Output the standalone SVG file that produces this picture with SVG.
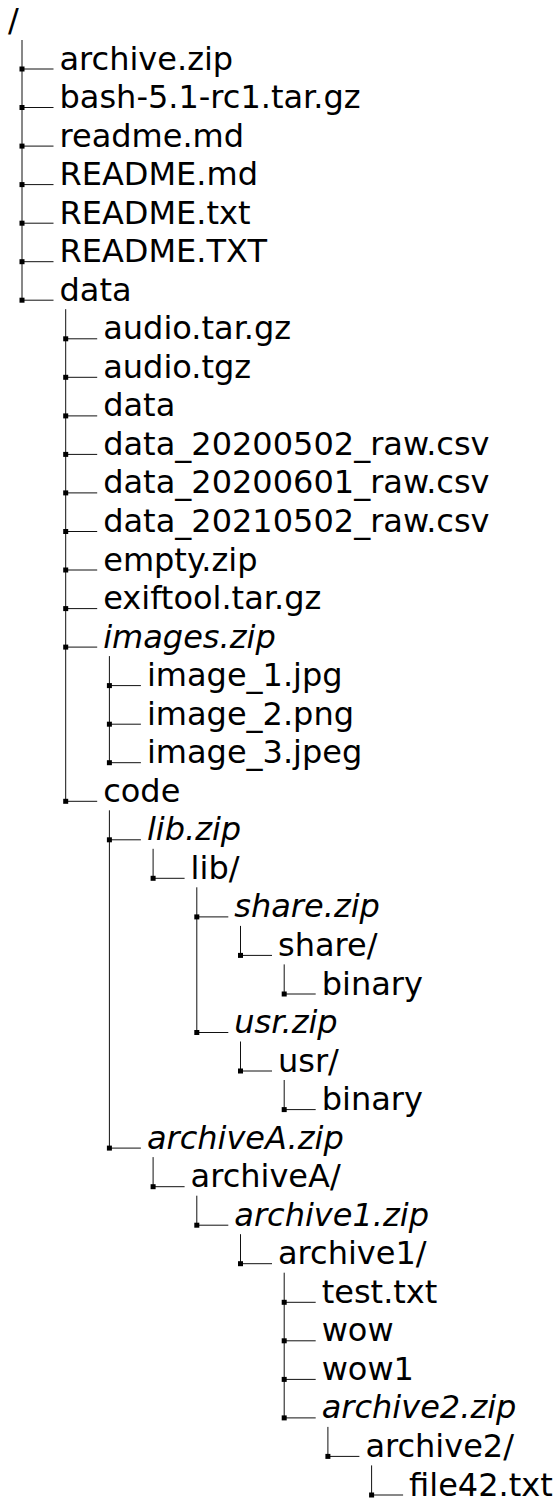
<svg xmlns="http://www.w3.org/2000/svg" xmlns:xlink="http://www.w3.org/1999/xlink" width="558" height="1499" viewBox="0 0 558 1499">
  <style>
    .lbl { font-family: "DejaVu Sans", "Noto Sans", sans-serif; font-size: 32px; fill: #000; }
    .arc { font-style: italic; }
    .trunk, .stub { stroke: #111; stroke-width: 1; fill: none; }
  </style>
  <defs>
    <!-- junction dot where a branch leaves its trunk -->
    <rect id="dot" x="-2.5" y="-2.5" width="5" height="5" fill="#000"/>
  </defs>
  <rect width="558" height="1499" fill="#fff"/>

  <!-- connectors: vertical trunks, horizontal stubs, junction dots -->
  <g id="connectors">
    <g class="trunk">
      <line x1="22" y1="40" x2="22" y2="300.2"/>
      <line x1="65.7" y1="309.2" x2="65.7" y2="801.3"/>
      <line x1="109.4" y1="656.1" x2="109.4" y2="762.7"/>
      <line x1="109.4" y1="810.3" x2="109.4" y2="1148.1"/>
      <line x1="153.1" y1="848.8" x2="153.1" y2="878.3"/>
      <line x1="196.8" y1="887.3" x2="196.8" y2="1032.5"/>
      <line x1="240.5" y1="925.9" x2="240.5" y2="955.4"/>
      <line x1="284.2" y1="964.4" x2="284.2" y2="994"/>
      <line x1="240.5" y1="1041.5" x2="240.5" y2="1071"/>
      <line x1="284.2" y1="1080" x2="284.2" y2="1109.6"/>
      <line x1="153.1" y1="1157.1" x2="153.1" y2="1186.7"/>
      <line x1="196.8" y1="1195.7" x2="196.8" y2="1225.2"/>
      <line x1="240.5" y1="1234.2" x2="240.5" y2="1263.7"/>
      <line x1="284.2" y1="1272.7" x2="284.2" y2="1417.9"/>
      <line x1="327.9" y1="1426.9" x2="327.9" y2="1456.4"/>
      <line x1="371.6" y1="1465.4" x2="371.6" y2="1495"/>
    </g>
    <g class="stub">
      <path d="M22 69h31.5M22 107.5h31.5M22 146.1h31.5M22 184.6h31.5M22 223.2h31.5M22 261.7h31.5M22 300.2h31.5"/>
      <path d="M65.7 338.8h31.5M65.7 377.3h31.5M65.7 415.9h31.5M65.7 454.4h31.5M65.7 492.9h31.5M65.7 531.5h31.5M65.7 570h31.5M65.7 608.6h31.5M65.7 647.1h31.5M65.7 801.3h31.5"/>
      <path d="M109.4 685.6h31.5M109.4 724.2h31.5M109.4 762.7h31.5M109.4 839.8h31.5M109.4 1148.1h31.5"/>
      <path d="M153.1 878.3h31.5M153.1 1186.7h31.5"/>
      <path d="M196.8 916.9h31.5M196.8 1032.5h31.5M196.8 1225.2h31.5"/>
      <path d="M240.5 955.4h31.5M240.5 1071h31.5M240.5 1263.7h31.5"/>
      <path d="M284.2 994h31.5M284.2 1109.6h31.5M284.2 1302.3h31.5M284.2 1340.8h31.5M284.2 1379.4h31.5M284.2 1417.9h31.5"/>
      <path d="M327.9 1456.4h31.5"/>
      <path d="M371.6 1495h31.5"/>
    </g>
    <g class="dots">
      <use xlink:href="#dot" x="22" y="69"/>
      <use xlink:href="#dot" x="22" y="107.5"/>
      <use xlink:href="#dot" x="22" y="146.1"/>
      <use xlink:href="#dot" x="22" y="184.6"/>
      <use xlink:href="#dot" x="22" y="223.2"/>
      <use xlink:href="#dot" x="22" y="261.7"/>
      <use xlink:href="#dot" x="22" y="300.2"/>
      <use xlink:href="#dot" x="65.7" y="338.8"/>
      <use xlink:href="#dot" x="65.7" y="377.3"/>
      <use xlink:href="#dot" x="65.7" y="415.9"/>
      <use xlink:href="#dot" x="65.7" y="454.4"/>
      <use xlink:href="#dot" x="65.7" y="492.9"/>
      <use xlink:href="#dot" x="65.7" y="531.5"/>
      <use xlink:href="#dot" x="65.7" y="570"/>
      <use xlink:href="#dot" x="65.7" y="608.6"/>
      <use xlink:href="#dot" x="65.7" y="647.1"/>
      <use xlink:href="#dot" x="65.7" y="801.3"/>
      <use xlink:href="#dot" x="109.4" y="685.6"/>
      <use xlink:href="#dot" x="109.4" y="724.2"/>
      <use xlink:href="#dot" x="109.4" y="762.7"/>
      <use xlink:href="#dot" x="109.4" y="839.8"/>
      <use xlink:href="#dot" x="109.4" y="1148.1"/>
      <use xlink:href="#dot" x="153.1" y="878.3"/>
      <use xlink:href="#dot" x="153.1" y="1186.7"/>
      <use xlink:href="#dot" x="196.8" y="916.9"/>
      <use xlink:href="#dot" x="196.8" y="1032.5"/>
      <use xlink:href="#dot" x="196.8" y="1225.2"/>
      <use xlink:href="#dot" x="240.5" y="955.4"/>
      <use xlink:href="#dot" x="240.5" y="1071"/>
      <use xlink:href="#dot" x="240.5" y="1263.7"/>
      <use xlink:href="#dot" x="284.2" y="994"/>
      <use xlink:href="#dot" x="284.2" y="1109.6"/>
      <use xlink:href="#dot" x="284.2" y="1302.3"/>
      <use xlink:href="#dot" x="284.2" y="1340.8"/>
      <use xlink:href="#dot" x="284.2" y="1379.4"/>
      <use xlink:href="#dot" x="284.2" y="1417.9"/>
      <use xlink:href="#dot" x="327.9" y="1456.4"/>
      <use xlink:href="#dot" x="371.6" y="1495"/>
    </g>
  </g>

  <!-- nodes: one group per file or folder; italic names are archives that get unpacked -->
  <g id="n-root"><text class="lbl" x="8" y="30.5">/</text></g>
  <g id="n-archive-zip"><text class="lbl" x="59.5" y="69.5">archive.zip</text></g>
  <g id="n-bash"><text class="lbl" x="59.5" y="108">bash-5.1-rc1.tar.gz</text></g>
  <g id="n-readme-md"><text class="lbl" x="59.5" y="146.6">readme.md</text></g>
  <g id="n-README-md"><text class="lbl" x="59.5" y="185.1">README.md</text></g>
  <g id="n-README-txt"><text class="lbl" x="59.5" y="223.7">README.txt</text></g>
  <g id="n-README-TXT"><text class="lbl" x="59.5" y="262.2">README.TXT</text></g>
  <g id="n-data"><text class="lbl" x="59.5" y="300.7">data</text></g>

  <g id="n-audio-tar"><text class="lbl" x="103.2" y="339.3">audio.tar.gz</text></g>
  <g id="n-audio-tgz"><text class="lbl" x="103.2" y="377.8">audio.tgz</text></g>
  <g id="n-data-data"><text class="lbl" x="103.2" y="416.4">data</text></g>
  <g id="n-csv-20200502"><text class="lbl" x="103.2" y="454.9">data_20200502_raw.csv</text></g>
  <g id="n-csv-20200601"><text class="lbl" x="103.2" y="493.4">data_20200601_raw.csv</text></g>
  <g id="n-csv-20210502"><text class="lbl" x="103.2" y="532">data_20210502_raw.csv</text></g>
  <g id="n-empty-zip"><text class="lbl" x="103.2" y="570.5">empty.zip</text></g>
  <g id="n-exiftool"><text class="lbl" x="103.2" y="609.1">exiftool.tar.gz</text></g>
  <g id="n-images-zip"><text class="lbl arc" x="103.2" y="647.6">images.zip</text></g>

  <g id="n-image-1"><text class="lbl" x="146.9" y="686.1">image_1.jpg</text></g>
  <g id="n-image-2"><text class="lbl" x="146.9" y="724.7">image_2.png</text></g>
  <g id="n-image-3"><text class="lbl" x="146.9" y="763.2">image_3.jpeg</text></g>

  <g id="n-code"><text class="lbl" x="103.2" y="801.8">code</text></g>
  <g id="n-lib-zip"><text class="lbl arc" x="146.9" y="840.3">lib.zip</text></g>
  <g id="n-lib"><text class="lbl" x="190.6" y="878.8">lib/</text></g>
  <g id="n-share-zip"><text class="lbl arc" x="234.3" y="917.4">share.zip</text></g>
  <g id="n-share"><text class="lbl" x="278" y="955.9">share/</text></g>
  <g id="n-share-binary"><text class="lbl" x="321.7" y="994.5">binary</text></g>
  <g id="n-usr-zip"><text class="lbl arc" x="234.3" y="1033">usr.zip</text></g>
  <g id="n-usr"><text class="lbl" x="278" y="1071.5">usr/</text></g>
  <g id="n-usr-binary"><text class="lbl" x="321.7" y="1110.1">binary</text></g>

  <g id="n-archiveA-zip"><text class="lbl arc" x="146.9" y="1148.6">archiveA.zip</text></g>
  <g id="n-archiveA"><text class="lbl" x="190.6" y="1187.2">archiveA/</text></g>
  <g id="n-archive1-zip"><text class="lbl arc" x="234.3" y="1225.7">archive1.zip</text></g>
  <g id="n-archive1"><text class="lbl" x="278" y="1264.2">archive1/</text></g>
  <g id="n-test-txt"><text class="lbl" x="321.7" y="1302.8">test.txt</text></g>
  <g id="n-wow"><text class="lbl" x="321.7" y="1341.3">wow</text></g>
  <g id="n-wow1"><text class="lbl" x="321.7" y="1379.9">wow1</text></g>
  <g id="n-archive2-zip"><text class="lbl arc" x="321.7" y="1418.4">archive2.zip</text></g>
  <g id="n-archive2"><text class="lbl" x="365.4" y="1456.9">archive2/</text></g>
  <g id="n-file42"><text class="lbl" x="409.1" y="1495.5">file42.txt</text></g>
</svg>
